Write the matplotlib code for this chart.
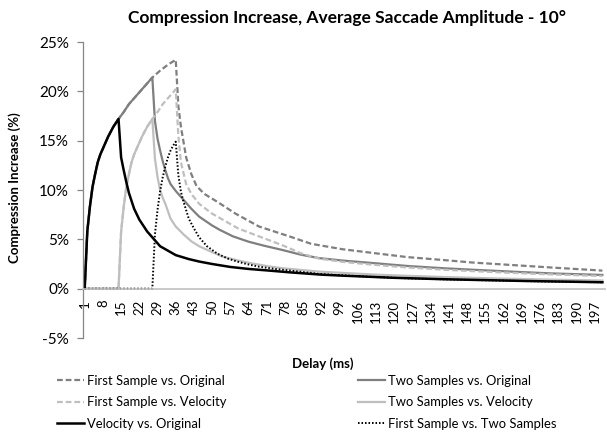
import matplotlib
matplotlib.use("Agg")
import matplotlib.pyplot as plt

plt.rcParams['font.family'] = ['Lato', 'DejaVu Sans']

# delay (ms) and compression increase (%), per series
fs_orig_x = [1, 2, 3, 4, 5, 6, 7, 8, 9, 10, 11, 12, 14, 16, 18, 20, 23, 27, 30, 33, 36,
             37, 38, 40, 42, 44, 47, 52, 59, 68, 80, 88, 100, 113, 125, 139, 150, 165, 180, 200]
fs_orig_y = [0, 5.8, 8.3, 10.3, 11.6, 12.8, 13.6, 14.2, 14.8, 15.4, 15.9, 16.4, 17.2, 17.9, 18.7, 19.3,
             20.2, 21.4, 22.1, 22.7, 23.2,
             18.5, 16.4, 13.3, 11.6, 10.4, 9.6, 8.8, 7.6, 6.3, 5.27, 4.55, 4.0, 3.58, 3.2, 2.9,
             2.65, 2.4, 2.15, 1.83]

ts_orig_x = [1, 2, 3, 4, 5, 6, 7, 8, 9, 10, 11, 12, 14, 16, 18, 20, 23, 27,
             28, 29, 30, 31, 32, 33, 34, 36, 39, 42, 45, 50, 53, 58, 64, 70, 77, 84, 91, 100, 113,
             125, 139, 150, 165, 180, 200]
ts_orig_y = [0, 5.8, 8.3, 10.3, 11.6, 12.8, 13.6, 14.2, 14.8, 15.4, 15.9, 16.4, 17.2, 17.9, 18.7, 19.3,
             20.2, 21.4,
             17.0, 15.2, 14.0, 12.9, 12.0, 11.2, 10.6, 9.9, 9.0, 8.1, 7.3, 6.4, 5.95, 5.3, 4.76,
             4.35, 3.92, 3.45, 3.1, 2.85, 2.57, 2.3, 2.07, 1.92, 1.73, 1.55, 1.39]

fs_vel_x = [1, 14, 15, 16, 17, 18, 19, 20, 21, 22, 23, 24, 25, 27, 29, 31, 33, 36,
            37, 38, 40, 42, 45, 50, 54, 60, 65, 72, 77, 84, 91, 100, 113, 125, 139, 150, 165, 180, 200]
fs_vel_y = [0, 0, 5.8, 8.3, 10.3, 11.6, 12.8, 13.6, 14.2, 14.8, 15.4, 15.9, 16.4, 17.2, 17.9, 18.7,
            19.3, 20.2,
            15.5, 12.8, 10.6, 9.6, 8.6, 7.6, 7.0, 6.1, 5.6, 4.9, 4.4, 3.6, 3.05, 2.72, 2.4, 2.15,
            1.92, 1.78, 1.6, 1.45, 1.28]

ts_vel_x = [1, 14, 15, 16, 17, 18, 19, 20, 21, 22, 23, 24, 25, 27,
            28, 29, 30, 31, 32, 34, 36, 39, 42, 45, 50, 54, 60, 65, 72, 77, 84, 91, 100, 113, 125,
            139, 150, 165, 180, 200]
ts_vel_y = [0, 0, 5.8, 8.3, 10.3, 11.6, 12.8, 13.6, 14.2, 14.8, 15.4, 15.9, 16.4, 17.2,
            13.2, 11.3, 10.0, 9.2, 8.6, 7.1, 6.3, 5.5, 4.8, 4.3, 3.7, 3.25, 2.85, 2.57, 2.25, 2.07,
            1.9, 1.73, 1.6, 1.42, 1.3, 1.18, 1.1, 1.0, 0.92, 0.82]

vel_orig_x = [1, 2, 3, 4, 5, 6, 7, 8, 9, 10, 11, 12, 14, 15, 16, 17, 18, 20, 22, 25, 30, 36, 41, 45,
              50, 57, 64, 72, 80, 92, 100, 120, 140, 170, 200]
vel_orig_y = [0, 5.8, 8.3, 10.3, 11.6, 12.8, 13.6, 14.2, 14.8, 15.4, 15.9, 16.4, 17.2, 13.3, 12.0,
              10.8, 9.7, 8.1, 7.0, 5.8, 4.3, 3.4, 3.0, 2.75, 2.5, 2.2, 2.0, 1.83, 1.65, 1.42, 1.32,
              1.1, 0.95, 0.78, 0.65]

fs_ts_x = [1, 27, 28, 29, 30, 31, 32, 33, 34, 35, 36, 37, 38, 39, 41, 43, 45, 48, 52, 56, 60,
           64, 68, 74, 80, 91, 100, 113, 125, 139, 150, 165, 180, 200]
fs_ts_y = [0, 0, 5.5, 8.0, 9.9, 11.3, 12.4, 13.3, 14.0, 14.5, 14.9, 11.5, 9.8, 8.8, 7.1, 6.1,
           5.2, 4.3, 3.55, 3.05, 2.72, 2.45, 2.23, 2.0, 1.83, 1.5, 1.35, 1.18, 1.05, 0.95, 0.88,
           0.8, 0.72, 0.65]

x_ticks = list(range(1, 201, 7))
y_ticks = [-5, 0, 5, 10, 15, 20, 25]

dark = '#7f7f7f'
light = '#bfbfbf'
dash = (0, (2.6, 1.3))
dot = (0, (0.8, 1.0))

fig = plt.figure(figsize=(6.07, 4.32), dpi=100)
ax = fig.add_axes([83 / 607, 1 - 338 / 432, 522 / 607, 296 / 432])

ax.plot(fs_orig_x, fs_orig_y, color=dark, lw=1.6, linestyle=dash, label='First Sample vs. Original')
ax.plot(ts_orig_x, ts_orig_y, color=dark, lw=1.6, label='Two Samples vs. Original')
ax.plot(fs_vel_x, fs_vel_y, color=light, lw=1.6, linestyle=dash, label='First Sample vs. Velocity')
ax.plot(ts_vel_x, ts_vel_y, color=light, lw=1.6, label='Two Samples vs. Velocity')
ax.plot(vel_orig_x, vel_orig_y, color='black', lw=1.8, label='Velocity vs. Original')
ax.plot(fs_ts_x, fs_ts_y, color='black', lw=1.4, linestyle=dot, label='First Sample vs. Two Samples')

ax.set_xlim(0.35, 201)
ax.set_ylim(-5, 25)

for s in ['top', 'right']:
    ax.spines[s].set_visible(False)
ax.spines['bottom'].set_position(('data', 0))
ax.spines['bottom'].set_color('#c0c0c0')
ax.spines['bottom'].set_linewidth(1.2)
ax.spines['left'].set_color('#868686')
ax.spines['left'].set_linewidth(0.9)

ax.set_xticks(x_ticks)
ax.set_xticklabels([str(t) for t in x_ticks], rotation=90)
ax.tick_params(axis='x', length=0, pad=8, labelsize=9.5)
ax.set_yticks(y_ticks)
ax.set_yticklabels(['%d%%' % t for t in y_ticks])
ax.tick_params(axis='y', length=4, width=0.9, color='#868686', pad=6, labelsize=11)

fig.text(347 / 607, 1 - 18 / 432, 'Compression Increase, Average Saccade Amplitude - 10°',
         ha='center', va='center', fontsize=12.5, fontweight='bold')
fig.text(15 / 607, 1 - 188 / 432, 'Compression Increase (%)', rotation=90,
         ha='center', va='center', fontsize=9.5, fontweight='bold')
fig.text(323 / 607, 1 - 364 / 432, 'Delay (ms)', ha='center', va='center',
         fontsize=9.5, fontweight='bold')

handles, labels = ax.get_legend_handles_labels()
col1 = [0, 2, 4]
col2 = [1, 3, 5]
for idx, xpos in [(col1, 57), (col2, 358)]:
    fig.legend([handles[i] for i in idx], [labels[i] for i in idx],
               loc='upper left', bbox_to_anchor=(xpos / 607, 1 - 375 / 432),
               frameon=False, fontsize=9.4, handlelength=2.1, handletextpad=0.22,
               labelspacing=0.72, borderpad=0, borderaxespad=0)

fig.savefig('out.png', dpi=100)
